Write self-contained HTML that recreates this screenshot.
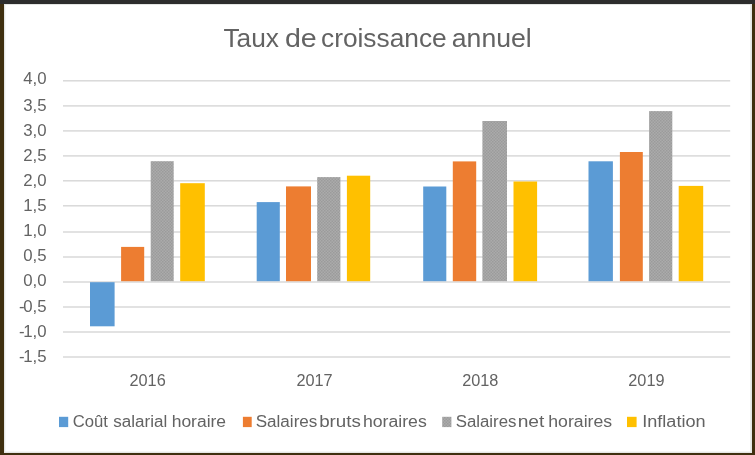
<!DOCTYPE html>
<html><head><meta charset="utf-8"><title>Taux de croissance annuel</title>
<style>
html,body{margin:0;padding:0;background:#fff;}
body{width:755px;height:455px;overflow:hidden;position:relative;font-family:"Liberation Sans",sans-serif;}
svg{position:absolute;left:0;top:0;display:block}
text{font-family:"Liberation Sans",sans-serif;fill:#636363;filter:grayscale(1)}
</style></head><body>
<svg width="755" height="455" viewBox="0 0 755 455">
<defs><pattern id="gp" width="3" height="3" patternUnits="userSpaceOnUse"><rect width="3" height="3" fill="#ababab"/><rect x="0" y="0" width="1.5" height="1.5" fill="#9b9b9b"/><rect x="1.5" y="1.5" width="1.5" height="1.5" fill="#9b9b9b"/></pattern></defs>
<rect x="0" y="0" width="755" height="455" fill="#3f2f0f"/>
<rect x="0" y="0" width="755" height="4" fill="#2d2d2d"/>
<rect x="4" y="4" width="748" height="449" fill="#e4e6e4"/>
<rect x="5.3" y="5" width="745" height="446.6" fill="#ffffff"/>

<rect x="63.0" y="80.10" width="667.2" height="1.4" fill="#d6d6d6"/>
<rect x="63.0" y="105.20" width="667.2" height="1.4" fill="#d6d6d6"/>
<rect x="63.0" y="130.20" width="667.2" height="1.4" fill="#d6d6d6"/>
<rect x="63.0" y="155.20" width="667.2" height="1.4" fill="#d6d6d6"/>
<rect x="63.0" y="180.10" width="667.2" height="1.4" fill="#d6d6d6"/>
<rect x="63.0" y="205.10" width="667.2" height="1.4" fill="#d6d6d6"/>
<rect x="63.0" y="231.30" width="667.2" height="1.4" fill="#d6d6d6"/>
<rect x="63.0" y="256.30" width="667.2" height="1.4" fill="#d6d6d6"/>
<rect x="63.0" y="281.30" width="667.2" height="1.4" fill="#d6d6d6"/>
<rect x="63.0" y="306.30" width="667.2" height="1.4" fill="#d6d6d6"/>
<rect x="63.0" y="331.30" width="667.2" height="1.4" fill="#d6d6d6"/>
<rect x="63.0" y="356.30" width="667.2" height="1.4" fill="#d6d6d6"/>
<rect x="90.00" y="282.20" width="24.60" height="44.10" fill="#5b9bd5"/>
<rect x="121.10" y="246.90" width="23.10" height="34.30" fill="#ed7d31"/>
<rect x="150.70" y="161.20" width="23.00" height="120.00" fill="url(#gp)"/>
<rect x="180.20" y="183.20" width="24.60" height="98.00" fill="#ffc000"/>
<rect x="256.70" y="202.10" width="23.10" height="79.10" fill="#5b9bd5"/>
<rect x="286.00" y="186.40" width="25.00" height="94.80" fill="#ed7d31"/>
<rect x="317.20" y="177.10" width="23.20" height="104.10" fill="url(#gp)"/>
<rect x="346.90" y="175.70" width="23.30" height="105.50" fill="#ffc000"/>
<rect x="423.20" y="186.50" width="23.10" height="94.70" fill="#5b9bd5"/>
<rect x="452.80" y="161.40" width="23.40" height="119.80" fill="#ed7d31"/>
<rect x="482.40" y="121.00" width="24.60" height="160.20" fill="url(#gp)"/>
<rect x="513.50" y="181.50" width="23.60" height="99.70" fill="#ffc000"/>
<rect x="588.50" y="161.30" width="24.40" height="119.90" fill="#5b9bd5"/>
<rect x="619.90" y="152.00" width="22.90" height="129.20" fill="#ed7d31"/>
<rect x="649.10" y="111.10" width="23.20" height="170.10" fill="url(#gp)"/>
<rect x="678.70" y="185.90" width="24.50" height="95.30" fill="#ffc000"/>
<text x="46.5" y="84.4" font-size="16.8" text-anchor="end">4,0</text>
<text x="46.5" y="111.3" font-size="16.8" text-anchor="end">3,5</text>
<text x="46.5" y="136.1" font-size="16.8" text-anchor="end">3,0</text>
<text x="46.5" y="161.1" font-size="16.8" text-anchor="end">2,5</text>
<text x="46.5" y="185.9" font-size="16.8" text-anchor="end">2,0</text>
<text x="46.5" y="210.9" font-size="16.8" text-anchor="end">1,5</text>
<text x="46.5" y="236.2" font-size="16.8" text-anchor="end">1,0</text>
<text x="46.5" y="260.8" font-size="16.8" text-anchor="end">0,5</text>
<text x="46.5" y="285.8" font-size="16.8" text-anchor="end">0,0</text>
<text x="46.5" y="311.7" font-size="16.8" text-anchor="end"><tspan>-</tspan><tspan dx="-1.4">0,5</tspan></text>
<text x="46.5" y="337.1" font-size="16.8" text-anchor="end"><tspan>-</tspan><tspan dx="-1.4">1,0</tspan></text>
<text x="46.5" y="361.9" font-size="16.8" text-anchor="end"><tspan>-</tspan><tspan dx="-1.4">1,5</tspan></text>
<text x="147.6" y="385.6" font-size="16.3" text-anchor="middle">2016</text>
<text x="314.5" y="385.6" font-size="16.3" text-anchor="middle">2017</text>
<text x="480.3" y="385.6" font-size="16.3" text-anchor="middle">2018</text>
<text x="646.4" y="385.6" font-size="16.3" text-anchor="middle">2019</text>
<text x="223.4" y="47.3" font-size="26" textLength="55.6" lengthAdjust="spacingAndGlyphs">Taux</text>
<text x="284.9" y="47.3" font-size="26" textLength="31.8" lengthAdjust="spacingAndGlyphs">de</text>
<text x="321.0" y="47.3" font-size="26" textLength="125.7" lengthAdjust="spacingAndGlyphs">croissance</text>
<text x="451.8" y="47.3" font-size="26" textLength="79.9" lengthAdjust="spacingAndGlyphs">annuel</text>
<rect x="59.0" y="416.8" width="9.2" height="10.3" fill="#5b9bd5"/>
<rect x="242.9" y="416.8" width="8.8" height="10.3" fill="#ed7d31"/>
<rect x="442.2" y="416.8" width="9.2" height="10.3" fill="url(#gp)"/>
<rect x="627.0" y="416.8" width="9.6" height="10.3" fill="#ffc000"/>
<text class="lg" x="72.7" y="427.2" font-size="15.8" textLength="35.2" lengthAdjust="spacingAndGlyphs">Coût</text>
<text class="lg" x="113.2" y="427.2" font-size="15.8" textLength="54.0" lengthAdjust="spacingAndGlyphs">salarial</text>
<text class="lg" x="171.7" y="427.2" font-size="15.8" textLength="54.4" lengthAdjust="spacingAndGlyphs">horaire</text>
<text class="lg" x="255.7" y="427.2" font-size="15.8" textLength="61.7" lengthAdjust="spacingAndGlyphs">Salaires</text>
<text class="lg" x="319.2" y="427.2" font-size="15.8" textLength="41.7" lengthAdjust="spacingAndGlyphs">bruts</text>
<text class="lg" x="362.9" y="427.2" font-size="15.8" textLength="63.9" lengthAdjust="spacingAndGlyphs">horaires</text>
<text class="lg" x="455.7" y="427.2" font-size="15.8" textLength="60.8" lengthAdjust="spacingAndGlyphs">Salaires</text>
<text class="lg" x="517.7" y="427.2" font-size="15.8" textLength="26.7" lengthAdjust="spacingAndGlyphs">net</text>
<text class="lg" x="548.3" y="427.2" font-size="15.8" textLength="63.8" lengthAdjust="spacingAndGlyphs">horaires</text>
<text class="lg" x="642.2" y="427.2" font-size="15.8" textLength="63.4" lengthAdjust="spacingAndGlyphs">Inflation</text>
</svg></body></html>
